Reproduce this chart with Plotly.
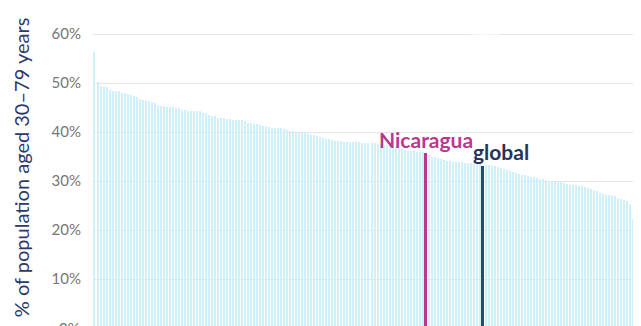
import plotly.graph_objects as go

# Share of population aged 30-79 with hypertension, one bar per country (sorted)
values = [
    56.3, 50.3, 49.3, 49.3, 49.2, 48.5, 48.4, 48.4, 48.3, 48.0,
    47.9, 47.7, 47.5, 47.3, 47.1, 46.8, 46.6, 46.5, 46.3, 46.1,
    45.9, 45.6, 45.4, 45.3, 45.1, 45.1, 45.1, 45.0, 45.0, 44.5,
    44.4, 44.3, 44.3, 44.3, 44.2, 44.2, 43.9, 43.8, 43.4, 43.3,
    43.2, 42.9, 42.8, 42.8, 42.7, 42.6, 42.5, 42.5, 42.4, 42.4,
    42.2, 41.9, 41.8, 41.7, 41.6, 41.5, 41.3, 41.2, 41.0, 40.9,
    40.9, 40.8, 40.8, 40.7, 40.5, 40.3, 40.2, 40.1, 39.9, 39.8,
    39.7, 39.5, 39.4, 39.3, 39.1, 38.9, 38.8, 38.6, 38.5, 38.3,
    38.2, 38.1, 38.1, 38.0, 38.0, 37.9, 37.9, 37.9, 37.9, 37.8,
    37.8, 37.8, 37.7, 37.7, 37.6, 37.5, 37.4, 37.3, 37.3, 37.2,
    37.1, 37.0, 36.6, 36.3, 36.2, 36.1, 36.1, 36.0, 36.0, 35.9,
    35.8, 35.3, 35.0, 34.8, 34.6, 34.5, 34.3, 34.1, 34.0, 33.9,
    33.9, 33.8, 33.8, 33.7, 33.6, 33.6, 33.5, 33.4, 33.4, 33.1,
    33.3, 33.2, 33.1, 33.0, 32.8, 32.6, 32.4, 32.2, 32.0, 31.8,
    31.7, 31.5, 31.3, 31.2, 31.0, 30.9, 30.8, 30.6, 30.5, 30.4,
    30.3, 30.1, 29.9, 29.8, 29.8, 29.7, 29.5, 29.3, 29.2, 29.2,
    29.1, 29.0, 29.0, 28.8, 28.6, 28.3, 28.2, 28.0, 27.6, 27.3,
    27.2, 27.2, 27.1, 27.0, 26.5, 26.3, 26.2, 25.9, 25.3, 22.2,
    21.7, 20.7,
]
nicaragua_index = 110
global_index = 129
nicaragua_label = "Nicaragua"
global_label = "global"
y_title = "% of population aged 30–79 years"
tick_vals = [10, 20, 30, 40, 50, 60]
tick_text = ["10%", "20%", "30%", "40%", "50%", "60%"]

BASE = "#cff0f9"
MAGENTA = "#bb3790"
NAVY = "#2c4777"
NAVY_TEXT = "#26335e"

n = len(values)
xs = list(range(n))
colors = [BASE] * n
widths = [0.34] * n
colors[nicaragua_index] = MAGENTA
colors[global_index] = NAVY
widths[nicaragua_index] = 0.85
widths[global_index] = 0.95

FONT = "Lato"
fig = go.Figure()
fig.add_trace(go.Bar(x=xs, y=values, marker=dict(color=colors, line=dict(width=0)),
                     width=widths, hoverinfo="skip"))

y_lo, y_hi = 0.41, 65.31
fig.update_layout(
    width=633, height=318,
    margin=dict(l=85, r=0, t=0, b=0),
    paper_bgcolor="white", plot_bgcolor="white",
    showlegend=False,
    font=dict(family=FONT),
    xaxis=dict(range=[-0.5, n - 0.5], showticklabels=False, showgrid=False,
               zeroline=False, showline=False, ticks=""),
    yaxis=dict(range=[y_lo, y_hi], tickvals=tick_vals, ticktext=tick_text,
               showgrid=True, gridcolor="#e4e4e4", gridwidth=1.2,
               zeroline=False, showline=False, ticks="",
               ticklabelstandoff=11,
               tickfont=dict(family=FONT, size=15, color="#767676")),
    bargap=0,
)

annotations = [
    dict(x=nicaragua_index, y=values[nicaragua_index], xref="x", yref="y",
         text=f"<b>{nicaragua_label}</b>", showarrow=False,
         xanchor="center", yanchor="bottom", yshift=0, borderpad=0,
         font=dict(family=FONT, size=21, color=MAGENTA)),
    dict(x=global_index, y=values[global_index], xref="x", yref="y",
         text=f"<b>{global_label}</b>", showarrow=False,
         xanchor="left", yanchor="bottom", xshift=-11, yshift=1, borderpad=0,
         font=dict(family=FONT, size=21, color=NAVY_TEXT)),
    dict(x=global_index, y=60, xref="x", yref="y",
         text=f"<b>{global_label}</b>", showarrow=False,
         xanchor="center", yanchor="middle", xshift=3,
         font=dict(family=FONT, size=11, color="white")),
    dict(x=-0.131, y=0.5, xref="paper", yref="paper", text=y_title,
         textangle=-90, showarrow=False, xanchor="center", yanchor="middle",
         font=dict(family=FONT, size=20, color="#2b3a6b")),
    dict(x=-0.020, y=(0 - y_lo) / (y_hi - y_lo), xref="paper", yref="paper",
         text="0%", showarrow=False, xanchor="right", yanchor="middle",
         font=dict(family=FONT, size=15, color="#767676")),
]
fig.update_layout(annotations=annotations)

fig.write_html("out.html")
